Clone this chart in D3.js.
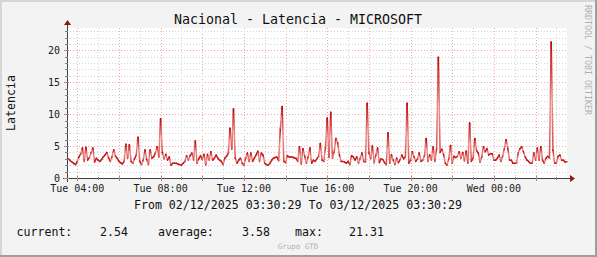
<!DOCTYPE html>
<html>
<head>
<meta charset="utf-8">
<script src="https://cdn.jsdelivr.net/npm/d3@7"></script>
<style>
  body { margin: 0; background: #f3f3f3; }
  text { font-family: "DejaVu Sans Mono", monospace; }
</style>
</head>
<body>
<div id="chart"></div>
<script>
// time range of the graph (UTC)
var startTime = new Date(Date.UTC(2025, 11, 2, 3, 30, 29));
var endTime = new Date(Date.UTC(2025, 11, 3, 3, 30, 29));
var firstSample = new Date(Date.UTC(2025, 11, 2, 3, 35, 0));
var stepMinutes = 5;

// latency samples, 5 min apart
var latency = [
  3.0,2.7,2.5,2.3,2.1,2.6,3.3,3.8,4.7,2.6, 4.8,2.8,3.2,4.0,4.7,2.5,3.1,2.8,2.6,2.9,
  3.3,3.6,4.0,3.2,2.6,3.3,4.4,3.4,3.1,2.6, 2.4,2.2,2.6,5.3,3.1,5.2,2.6,2.3,3.0,3.6,
  6.4,2.6,2.1,2.8,4.4,2.9,2.1,4.4,3.1,3.3, 3.9,4.9,3.3,9.3,4.0,3.0,3.7,
  2.8,3.3,2.0,2.3,2.3,2.3,2.2,2.1,2.0,2.3, 2.6,3.5,2.8,3.5,3.9,2.8,5.8,2.3,3.0,3.5,
  2.9,3.7,2.0,3.7,2.8,4.1,2.8,3.1,3.6,3.1, 2.8,2.6,2.1,3.1,3.4,3.9,7.8,4.5,10.8,3.1,
  2.3,2.8,3.1,2.3,2.0,3.1,3.9,2.6,3.9,2.6, 3.1,3.6,4.2,2.6,3.9,3.6,2.3,2.1,
  2.0,2.3,2.8,3.1,3.2,3.3,2.7,7.8,11.2,2.6, 2.4,3.5,3.3,3.3,3.3,3.1,3.1,2.6,4.9,2.2,
  4.6,3.4,2.3,3.3,4.7,2.3,2.8,2.6,3.0,3.4, 5.4,2.8,2.6,4.9,9.4,3.2,10.3,3.1,4.1,6.2,
  5.5,3.6,2.6,2.6,2.5,2.3,2.6,2.1,3.5,3.3, 2.8,3.3,2.3,3.1,3.9,2.6,2.5,
  11.7,3.9,3.0,5.0,2.4,3.6,4.7,2.4,3.0,2.9, 2.4,2.1,7.1,2.3,3.6,2.8,2.1,3.1,2.4,2.9,
  3.6,3.0,3.3,11.7,2.3,2.8,4.1,3.3,2.6,3.0, 3.9,2.6,2.8,3.5,6.2,2.6,3.6,2.8,4.9,2.6,
  4.6,18.9,4.0,4.5,3.7,2.3,2.0,3.0,5.1,2.3, 3.4,3.2,3.4,4.1,3.1,4.0,2.7,4.2,
  2.3,8.6,2.6,3.1,6.2,4.3,3.9,2.5,3.3,4.9, 4.1,4.6,3.6,3.8,3.8,2.8,2.8,3.1,3.6,2.6,
  3.4,4.6,6.0,4.6,2.8,2.8,2.3,2.3,2.3,3.9, 4.6,4.9,4.1,3.3,2.8,2.6,2.3,2.3,3.9,2.8,
  4.7,2.8,4.9,2.8,2.3,3.1,3.4,3.1,21.3,4.4, 2.3,2.3,3.4,3.6,2.8,2.8,2.5,2.54
];

var yTicks = [0, 5, 10, 15, 20];
var legendLabels = ["current:", "average:", "max:"];
var legendValues = ["2.54", "3.58", "21.31"];

var W = 597, H = 257;
var plot = {left: 67, right: 567, top: 28, bottom: 178};

var svg = d3.select("#chart").append("svg")
  .attr("width", W).attr("height", H);

// background + 3d frame
svg.append("rect").attr("width", W).attr("height", H).attr("fill", "#f3f3f3");
svg.append("rect").attr("x", 0).attr("y", 0).attr("width", W).attr("height", 2).attr("fill", "#d6d6d6");
svg.append("rect").attr("x", 0).attr("y", 0).attr("width", 2).attr("height", H).attr("fill", "#d6d6d6");
svg.append("rect").attr("x", 0).attr("y", H - 2).attr("width", W).attr("height", 2).attr("fill", "#9e9e9e");
svg.append("rect").attr("x", W - 2).attr("y", 0).attr("width", 2).attr("height", H).attr("fill", "#9e9e9e");

// plot canvas
svg.append("rect")
  .attr("x", plot.left).attr("y", plot.top)
  .attr("width", plot.right - plot.left).attr("height", plot.bottom - plot.top)
  .attr("fill", "#ffffff");

var x = d3.scaleTime().domain([startTime, endTime]).range([plot.left, plot.right]);
var y = d3.scaleLinear().domain([0, 23.5]).range([plot.bottom, plot.top]);

var data = latency.map(function(v, i) {
  return {t: new Date(firstSample.getTime() + i * stepMinutes * 60000), v: v};
});

// grid
var grid = svg.append("g").attr("shape-rendering", "crispEdges");
var hours = d3.utcHour.range(startTime, endTime);
hours.forEach(function(h) {
  var major = h.getUTCHours() % 2 === 0;
  grid.append("line")
    .attr("x1", Math.round(x(h)) + 0.5).attr("x2", Math.round(x(h)) + 0.5)
    .attr("y1", plot.top).attr("y2", plot.bottom)
    .attr("stroke", major ? "#f2a6a6" : "#d4d4d4")
    .attr("stroke-dasharray", "1,2");
});
d3.range(1, 24).forEach(function(v) {
  var major = v % 5 === 0;
  grid.append("line")
    .attr("x1", plot.left).attr("x2", plot.right)
    .attr("y1", Math.round(y(v)) + 0.5).attr("y2", Math.round(y(v)) + 0.5)
    .attr("stroke", major ? "#f2a6a6" : "#d4d4d4")
    .attr("stroke-dasharray", "1,2");
});

// the line, each segment shaded from dark (top) to light (bottom)
var defs = svg.append("defs");
var lineG = svg.append("g");
for (var i = 1; i < data.length; i++) {
  var x0 = x(data[i - 1].t), y0 = y(data[i - 1].v);
  var x1 = x(data[i].t), y1 = y(data[i].v);
  var stroke = "#c81a1a";
  if (Math.abs(y1 - y0) > 4) {
    var id = "g" + i;
    var grad = defs.append("linearGradient").attr("id", id)
      .attr("gradientUnits", "userSpaceOnUse")
      .attr("x1", 0).attr("x2", 0)
      .attr("y1", Math.min(y0, y1)).attr("y2", Math.max(y0, y1));
    grad.append("stop").attr("offset", 0).attr("stop-color", "#c00808");
    grad.append("stop").attr("offset", 0.55).attr("stop-color", "#ec9090");
    grad.append("stop").attr("offset", 1).attr("stop-color", "#d84a4a");
    stroke = "url(#" + id + ")";
  }
  lineG.append("line")
    .attr("x1", x0).attr("y1", y0).attr("x2", x1).attr("y2", y1)
    .attr("stroke", stroke).attr("stroke-width", 1.5)
    .attr("stroke-linecap", "round");
}

// axes
var axes = svg.append("g").attr("shape-rendering", "crispEdges");
axes.append("line").attr("x1", plot.left - 4).attr("x2", plot.right + 3)
  .attr("y1", plot.bottom + 0.5).attr("y2", plot.bottom + 0.5).attr("stroke", "#404040");
axes.append("line").attr("x1", plot.left + 0.5).attr("x2", plot.left + 0.5)
  .attr("y1", plot.bottom + 4).attr("y2", plot.top - 3).attr("stroke", "#404040");
hours.forEach(function(h) {
  var major = h.getUTCHours() % 2 === 0;
  axes.append("line")
    .attr("x1", Math.round(x(h)) + 0.5).attr("x2", Math.round(x(h)) + 0.5)
    .attr("y1", plot.bottom - (major ? 2 : 1)).attr("y2", plot.bottom + (major ? 3 : 2))
    .attr("stroke", major ? "#c08080" : "#808080");
});
d3.range(0, 24).forEach(function(v) {
  var major = v % 5 === 0;
  axes.append("line")
    .attr("x1", plot.left - (major ? 3 : 2)).attr("x2", plot.left + (major ? 2 : 1))
    .attr("y1", Math.round(y(v)) + 0.5).attr("y2", Math.round(y(v)) + 0.5)
    .attr("stroke", major ? "#c08080" : "#808080");
});
// arrows
svg.append("path")
  .attr("d", "M" + (plot.right + 3) + "," + (plot.bottom - 3) + " L" + (plot.right + 8) + "," + (plot.bottom + 0.5) + " L" + (plot.right + 3) + "," + (plot.bottom + 4) + " Z")
  .attr("fill", "#8b1a1a");
svg.append("path")
  .attr("d", "M" + (plot.left - 3) + "," + (plot.top - 3) + " L" + (plot.left + 0.5) + "," + (plot.top - 8) + " L" + (plot.left + 4) + "," + (plot.top - 3) + " Z")
  .attr("fill", "#8b1a1a");

// tick labels
var fmt = d3.utcFormat("%a %H:%M");
var labelHours = hours.filter(function(h) { return h.getUTCHours() % 4 === 0; });
svg.append("g").selectAll("text").data(labelHours).enter().append("text")
  .attr("x", function(d) { return x(d); })
  .attr("y", 191.5)
  .attr("text-anchor", "middle")
  .attr("font-size", 10)
  .attr("fill", "#202020")
  .text(function(d) { return fmt(d); });

svg.append("g").selectAll("text").data(yTicks).enter().append("text")
  .attr("x", 60)
  .attr("y", function(d) { return y(d) + 3.5; })
  .attr("text-anchor", "end")
  .attr("font-size", 10)
  .attr("fill", "#202020")
  .text(function(d) { return d; });

// title and labels
svg.append("text").attr("x", 298).attr("y", 24).attr("text-anchor", "middle")
  .attr("font-size", 13.3).attr("fill", "#101010")
  .text("Nacional - Latencia - MICROSOFT");

svg.append("text").attr("transform", "translate(15,103) rotate(-90)")
  .attr("text-anchor", "middle").attr("font-size", 11.6).attr("fill", "#101010")
  .text("Latencia");

svg.append("text").attr("transform", "translate(585,5) rotate(90)")
  .attr("font-size", 8.3).attr("fill", "#b0b0b0")
  .text("RRDTOOL / TOBI OETIKER");

svg.append("text").attr("x", 298).attr("y", 208.5).attr("text-anchor", "middle")
  .attr("font-size", 11.6).attr("fill", "#101010")
  .text("From 02/12/2025 03:30:29 To 03/12/2025 03:30:29");

// legend
var labelX = [16.5, 158, 295];
var valueX = [128, 270, 384];
legendLabels.forEach(function(l, i) {
  svg.append("text").attr("x", labelX[i]).attr("y", 236)
    .attr("font-size", 11.6).attr("fill", "#101010").text(l);
  svg.append("text").attr("x", valueX[i]).attr("y", 236).attr("text-anchor", "end")
    .attr("font-size", 11.6).attr("fill", "#101010").text(legendValues[i]);
});

svg.append("text").attr("x", 298).attr("y", 248.5).attr("text-anchor", "middle")
  .attr("font-size", 7.5).attr("fill", "#b0b0b0").text("Grupo GTD");
</script>
</body>
</html>
